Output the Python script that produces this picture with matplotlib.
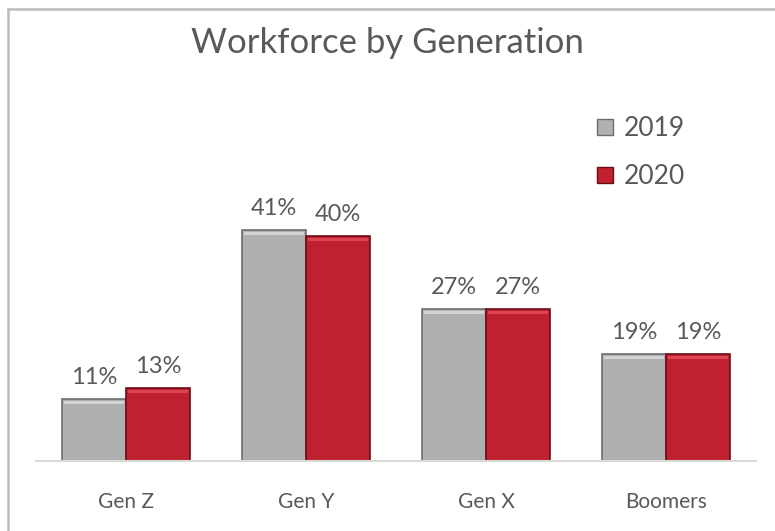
import numpy as np
import matplotlib
matplotlib.use("Agg")
import matplotlib.pyplot as plt
from matplotlib.lines import Line2D
from matplotlib.patches import Rectangle

categories = ["Gen Z", "Gen Y", "Gen X", "Boomers"]
series_names = ["2019", "2020"]
values_2019 = [11, 41, 27, 19]
values_2020 = [13, 40, 27, 19]

plt.rcParams["font.family"] = ["Lato", "DejaVu Sans"]
TEXT = "#595959"
GREY = "#b0b0b0"
RED = "#c0212f"

fig = plt.figure(figsize=(7.75, 5.31), dpi=100)
ax = fig.add_axes([36 / 775, 70 / 531, 720 / 775, 394 / 531])

x = np.arange(len(categories))
w = 0.355

bars1 = ax.bar(x - w / 2, values_2019, w, color=GREY, edgecolor="#6e6e6e", linewidth=1.2)
bars2 = ax.bar(x + w / 2, values_2020, w, color=RED, edgecolor="#6a0e16", linewidth=1.2)

# light strip on top of each bar for the bevel look
for bars, hi in ((bars1, "#d4d4d4"), (bars2, "#dc4550")):
    for b in bars:
        ax.add_patch(Rectangle((b.get_x() + 0.012, b.get_height() - 0.9), b.get_width() - 0.024, 0.6,
                               color=hi, lw=0, zorder=3))

for bars, vals in ((bars1, values_2019), (bars2, values_2020)):
    for b, v in zip(bars, vals):
        ax.text(b.get_x() + b.get_width() / 2, v + 2.0, f"{v}%", ha="center", va="bottom",
                fontsize=17, color=TEXT)

ax.set_xlim(-0.5, 3.5)
ax.set_ylim(0, 70)
ax.set_yticks([])
ax.set_xticks(x)
ax.set_xticklabels(categories, fontsize=15, color=TEXT)
ax.tick_params(axis="x", length=0, pad=22)
for s in ["top", "right", "left"]:
    ax.spines[s].set_visible(False)
ax.spines["bottom"].set_color("#d9d9d9")
ax.spines["bottom"].set_linewidth(1.5)

fig.text(0.5, 1 - 43 / 531, "Workforce by Generation", ha="center", va="center",
         fontsize=25, color=TEXT)

handles = [Line2D([], [], marker="s", ls="", markersize=12, markerfacecolor=GREY,
                  markeredgecolor="#6e6e6e"),
           Line2D([], [], marker="s", ls="", markersize=12, markerfacecolor=RED,
                  markeredgecolor="#6a0e16")]
leg = fig.legend(handles, series_names, loc="upper left", bbox_to_anchor=(568 / 775, 1 - 92 / 531),
                 frameon=False, fontsize=19, handletextpad=0.2, labelspacing=0.9,
                 handlelength=1.0)
for t in leg.get_texts():
    t.set_color(TEXT)

# outer chart frame (left and top)
fig.add_artist(Line2D([8 / 775, 8 / 775], [0, 1 - 9 / 531], color="#b8bfb8", lw=1.8))
fig.add_artist(Line2D([8 / 775, 1], [1 - 9 / 531, 1 - 9 / 531], color="#b8bfb8", lw=1.8))

fig.savefig("out.png", dpi=100)
